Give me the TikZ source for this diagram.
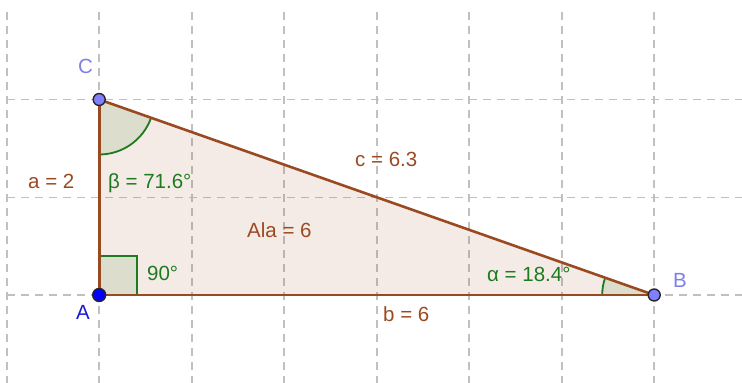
\documentclass[tikz,border=0pt]{standalone}
\usepackage{fontspec}
\setmainfont{Liberation Sans}
\definecolor{edgebrown}{HTML}{9A4A20}
\definecolor{angfill}{HTML}{DCDDCD}
\definecolor{anggreen}{HTML}{1E7A1E}
\definecolor{gridgray}{HTML}{C0C0C0}
\definecolor{ptviolet}{HTML}{7F7FFF}
\definecolor{ptblue}{HTML}{0000FF}
\definecolor{lblviolet}{HTML}{7F7FE8}
\definecolor{lblblue}{HTML}{1A1AD8}
\tikzset{
  gridline/.style={gridgray, line width=1.8pt, dash pattern=on 8pt off 6pt},
  edgeline/.style={edgebrown, line width=2.6pt},
  angsector/.style={fill=angfill},
  angline/.style={anggreen, line width=1.8pt},
  ptdot/.style={circle, draw=black!85, line width=1.4pt, minimum size=13pt, inner sep=0pt},
  lbl/.style={anchor=base west, inner sep=0pt, font=\fontsize{20.5}{24}\selectfont},
  brownlbl/.style={lbl, text=edgebrown},
  greenlbl/.style={lbl, text=anggreen},
}
\begin{document}
\begin{tikzpicture}[x=1pt, y=1pt]
\useasboundingbox (0,0) rectangle (742,383);
% grid
\foreach \gx in {6.7,99.2,191.7,284.2,376.7,469.2,561.7,654.2}
  \draw[gridline] (\gx,371) -- (\gx,0);
\foreach \gy in {283.5,185.5,88}
  \draw[gridline] (7,\gy) -- (742,\gy);
% vertices
\coordinate (A) at (99.2,88);
\coordinate (B) at (654.2,88);
\coordinate (C) at (99.2,283.5);
% triangle fill
\fill[edgebrown, fill opacity=0.11] (A) -- (B) -- (C) -- cycle;
% angle at C (beta)
\fill[angsector] (C) -- ++(-90:55) arc[start angle=-90, end angle=-19.4, radius=55] -- cycle;
\draw[angline] (C) ++(-90:55) arc[start angle=-90, end angle=-19.4, radius=55];
% angle at B (alpha)
\fill[angsector] (B) -- ++(160.6:52) arc[start angle=160.6, end angle=180, radius=52] -- cycle;
\draw[angline] (B) ++(160.6:52) arc[start angle=160.6, end angle=180, radius=52];
% right angle at A
\fill[angsector] (A) rectangle ++(38,39);
\draw[angline] (A) ++(0,39) -- ++(38,0) -- ++(0,-39);
% triangle edges
\draw[edgeline] (A) -- (B);
\draw[edgeline] (B) -- (C);
\draw[edgeline] (C) -- (A);
% points
\node[ptdot, fill=ptblue] (pA) at (A) {};
\node[ptdot, fill=ptviolet, minimum size=12pt] (pB) at (B) {};
\node[ptdot, fill=ptviolet, minimum size=12pt] (pC) at (C) {};
% labels
\node[lbl, text=lblblue] (lA) at (76,63) {A};
\node[lbl, text=lblviolet] (lB) at (673,95) {B};
\node[lbl, text=lblviolet] (lC) at (78,309) {C};
\node[brownlbl] (la) at (28,194) {a = 2};
\node[brownlbl] (lb) at (383,61) {b = 6};
\node[brownlbl] (lc) at (355,216) {c = 6.3};
\node[brownlbl] (lArea) at (247,145) {Ala = 6};
\node[greenlbl] (lbeta) at (108,194) {β = 71.6°};
\node[greenlbl] (lalpha) at (487,101) {α = 18.4°};
\node[greenlbl] (lright) at (147,102) {90°};
\end{tikzpicture}
\end{document}
